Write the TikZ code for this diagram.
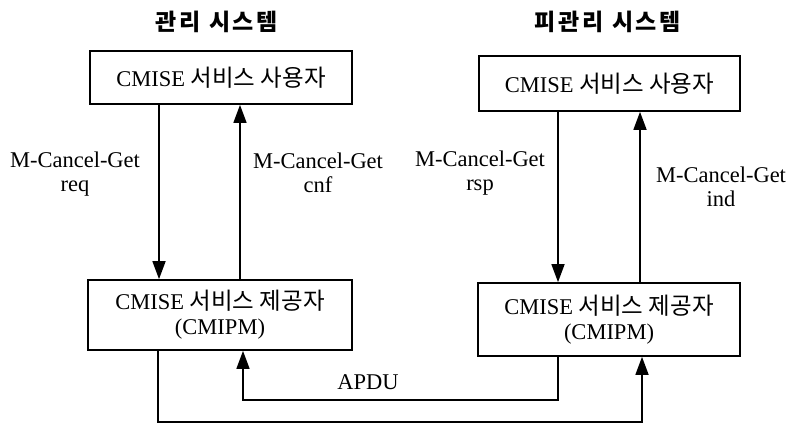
\documentclass[tikz,border=0pt]{standalone}
\usepackage{fontspec}
\setmainfont{Liberation Serif}
\newfontfamily\kr{Noto Sans CJK KR}
\newfontfamily\krt{Noto Sans CJK KR}[LetterSpace=12]
\usetikzlibrary{arrows.meta}
\begin{document}
\begin{tikzpicture}[x=1pt,y=-1pt,
  box/.style={draw,line width=1.7pt,inner sep=0pt,align=center,
    font=\fontsize{22.5}{25}\selectfont},
  lbl/.style={align=center,inner sep=0pt,font=\fontsize{22.5}{24}\selectfont},
  ttl/.style={inner sep=0pt,font=\krt\bfseries\fontsize{23}{24}\selectfont},
  arr/.style={line width=1.6pt,-{Triangle[length=18pt,width=13pt]}}]
\useasboundingbox (0,0) rectangle (789,426);
\node[ttl] (t1) at (217,22) {관리 시스템};
\node[ttl] (t2) at (608,22) {피관리 시스템};
\node[box,minimum width=262pt,minimum height=53pt] (u1) at (221,77.5)
  {CMISE {\kr\fontsize{23.5}{25}\selectfont 서비스 사용자}};
\node[box,minimum width=261pt,minimum height=55pt] (u2) at (609.5,83.5)
  {CMISE {\kr\fontsize{23.5}{25}\selectfont 서비스 사용자}};
\node[box,minimum width=264pt,minimum height=70pt] (p1) at (220,315)
  {CMISE {\kr\fontsize{23.5}{25}\selectfont 서비스 제공자}\\(CMIPM)};
\node[box,minimum width=262pt,minimum height=73pt] (p2) at (609,319.5)
  {CMISE {\kr\fontsize{23.5}{25}\selectfont 서비스 제공자}\\(CMIPM)};
\coordinate (l1) at (159,0);
\coordinate (l2) at (240,0);
\coordinate (r1) at (558,0);
\coordinate (r2) at (640,0);
\draw[arr] (u1.south -| l1) -- (p1.north -| l1);
\draw[arr] (p1.north -| l2) -- (u1.south -| l2);
\draw[arr] (u2.south -| r1) -- (p2.north -| r1);
\draw[arr] (p2.north -| r2) -- (u2.south -| r2);
\node[lbl] (m1) at (75,174) {M-Cancel-Get\\req};
\node[lbl] (m2) at (318,173) {M-Cancel-Get\\cnf};
\node[lbl] (m3) at (480,173) {M-Cancel-Get\\rsp};
\node[lbl] (m4) at (721,187) {M-Cancel-Get\\ind};
\coordinate (a1) at (558,400);
\coordinate (a2) at (243,400);
\draw[arr] (p2.south -| a1) -- (a1) -- (a2) -- (p1.south -| a2);
\coordinate (b1) at (158,422);
\coordinate (b2) at (642,422);
\draw[arr] (p1.south -| b1) -- (b1) -- (b2) -- (p2.south -| b2);
\node[lbl] (apdu) at (368,382) {APDU};
\end{tikzpicture}
\end{document}
